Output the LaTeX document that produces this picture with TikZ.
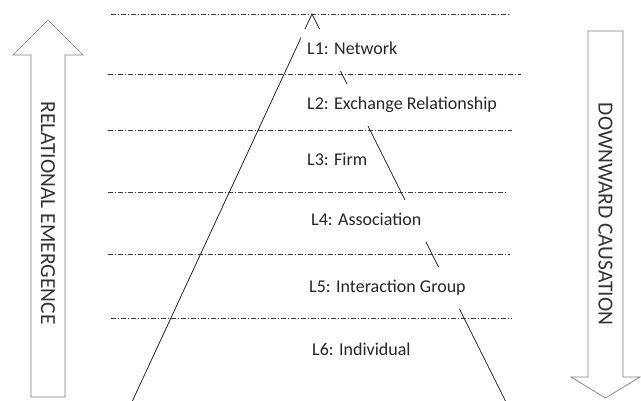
\documentclass[tikz,border=0pt]{standalone}
\usepackage{fontspec}
\setmainfont{Carlito}
\begin{document}
\begin{tikzpicture}[x=1pt,y=-1pt,
  level/.style={draw=black!75, line width=0.6pt, dash pattern=on 5pt off 2pt on 1pt off 2pt},
  side/.style={draw=black!85, line width=0.8pt},
  bigarrow/.style={draw=black!50, line width=0.7pt, fill=white},
  layer/.style={fill=white, anchor=west, inner xsep=6pt, inner ysep=0pt,
    minimum height=42pt, text height=12pt, text depth=4pt,
    font=\fontsize{18}{20}\selectfont, text=black!85},
  arrowtext/.style={rotate=-90, inner sep=0pt, font=\fontsize{21.5}{24}\selectfont, text=black!80}
]
\useasboundingbox (0,0) rectangle (641,400);
\clip (0,0) rectangle (641,400);

% level separators
\coordinate (h1l) at (111,14);  \coordinate (h1r) at (511,14);
\coordinate (h2l) at (108,74);  \coordinate (h2r) at (521,74);
\coordinate (h3l) at (108,130); \coordinate (h3r) at (512,130);
\coordinate (h4l) at (108,192); \coordinate (h4r) at (508,192);
\coordinate (h5l) at (108,254); \coordinate (h5r) at (510,254);
\coordinate (h6l) at (111,318); \coordinate (h6r) at (512,318);
\foreach \i in {1,...,6} \draw[level] (h\i l) -- (h\i r);

% pyramid sides
\coordinate (apex) at (312,14);
\coordinate (baseL) at (131,404);
\coordinate (baseR) at (507,404);
\draw[side] (baseL) -- (apex) -- (baseR);

% layer labels (white boxes mask the right side)
\node[layer] (l1) at (301,50)  {L1: Network};
\node[layer] (l2) at (301,105) {L2: Exchange Relationship};
\node[layer] (l3) at (301,161) {L3: Firm};
\node[layer] (l4) at (305,221) {L4: Association};
\node[layer] (l5) at (303,288) {L5: Interaction Group};
\node[layer] (l6) at (306,351) {L6: Individual};

% block arrows
\draw[bigarrow] (31,397) -- (31,55) -- (13,55) -- (48,20) -- (83,55) -- (65,55) -- (65,397) -- cycle;
\draw[bigarrow] (588,31) -- (623,31) -- (623,377) -- (640,377) -- (605.5,398) -- (571,377) -- (588,377) -- cycle;
\node[arrowtext] (up) at (48,213) {RELATIONAL EMERGENCE};
\node[arrowtext] (down) at (605.5,214) {DOWNWARD CAUSATION};
\end{tikzpicture}
\end{document}
